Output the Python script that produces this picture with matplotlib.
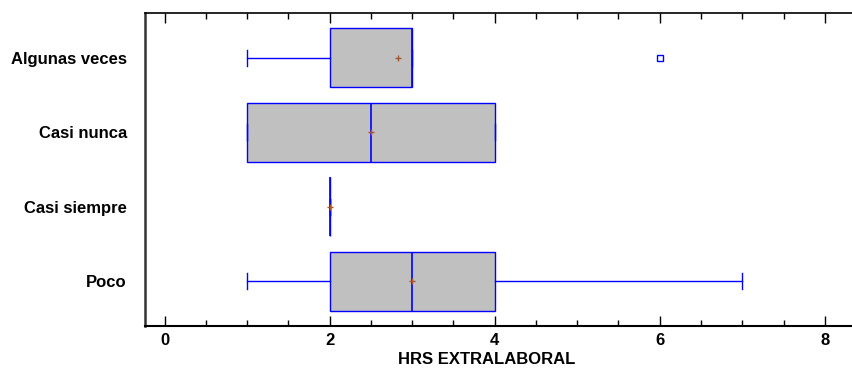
import matplotlib
matplotlib.use("Agg")
import matplotlib.pyplot as plt
from matplotlib.ticker import MultipleLocator

plt.rcParams['font.family'] = ['Liberation Sans', 'DejaVu Sans']

# values
categories = ['Algunas veces', 'Casi nunca', 'Casi siempre', 'Poco']
whislo = [1, 1, 2, 1]
q1 = [2, 1, 2, 2]
med = [3, 2.5, 2, 3]
q3 = [3, 4, 2, 4]
whishi = [3, 4, 2, 7]
means = [2.83, 2.5, 2, 3]
outliers = [[6], [], [], []]

stats = []
for i in range(len(categories)):
    stats.append({'label': categories[i], 'whislo': whislo[i], 'q1': q1[i],
                  'med': med[i], 'q3': q3[i], 'whishi': whishi[i],
                  'mean': means[i], 'fliers': outliers[i]})

fig = plt.figure(figsize=(8.52, 3.72), dpi=100)
ax = fig.add_axes([0.170, 0.124, 0.830, 0.841])

blue = '#0000FF'
pos = list(range(len(categories)))[::-1]
ax.bxp(stats, positions=pos, vert=False, widths=0.79, patch_artist=True,
       showmeans=True, capwidths=0.21,
       boxprops=dict(facecolor='#C0C0C0', edgecolor=blue, linewidth=1.0),
       medianprops=dict(color=blue, linewidth=1.2),
       whiskerprops=dict(color=blue, linewidth=1.0),
       capprops=dict(color=blue, linewidth=1.0),
       meanprops=dict(marker='+', markeredgecolor='#A8552D', markersize=5, markeredgewidth=1.0),
       flierprops=dict(marker='s', markerfacecolor='none', markeredgecolor=blue, markersize=4, markeredgewidth=1.0))

ax.set_xlim(-0.24, 8.33)
ax.set_ylim(-0.6, 3.6)
ax.set_yticks(pos)
ax.set_yticklabels(categories, fontsize=12, fontweight='bold')
ax.tick_params(axis='y', length=0, pad=13)
ax.xaxis.set_major_locator(MultipleLocator(2))
ax.xaxis.set_minor_locator(MultipleLocator(0.5))
ax.tick_params(axis='x', which='major', direction='in', top=True, length=7, width=1.0, labelsize=12, pad=5)
ax.tick_params(axis='x', which='minor', direction='in', top=True, length=4, width=1.0)
for lab in ax.get_xticklabels():
    lab.set_fontweight('bold')
ax.set_xlabel('HRS EXTRALABORAL', fontsize=12, fontweight='bold')
ax.xaxis.set_label_coords(0.484, -0.085)

ax.spines['right'].set_visible(False)
ax.spines['left'].set_linewidth(1.8)
ax.spines['left'].set_color('#333333')
ax.spines['bottom'].set_linewidth(1.5)
ax.spines['top'].set_linewidth(1.2)

fig.savefig('out.png', dpi=100)
